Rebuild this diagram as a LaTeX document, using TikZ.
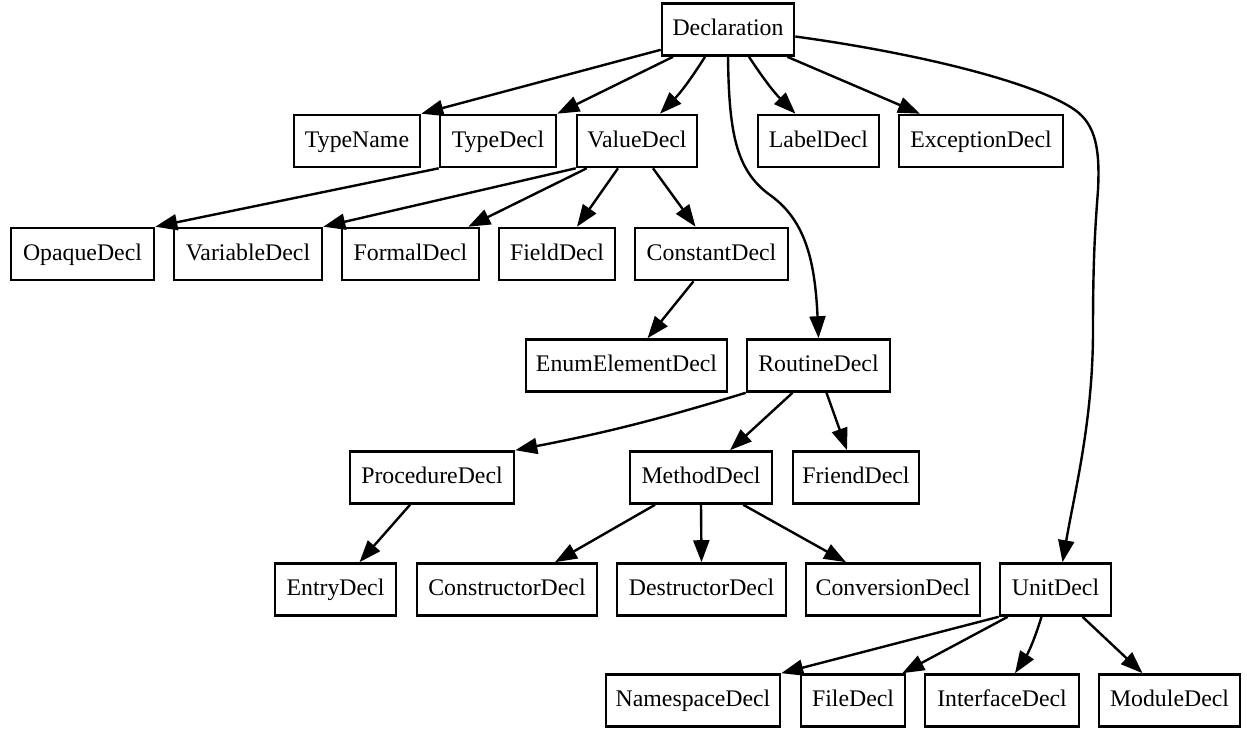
\documentclass[tikz,border=0pt]{standalone}
\usepackage{fontspec}
\setmainfont{Liberation Serif}
\usetikzlibrary{arrows.meta,calc}
\begin{document}
\begin{tikzpicture}[x=0.5pt,y=-0.5pt,
  box/.style={draw, line width=1.3pt, minimum height=26pt, inner sep=0pt,
    text height=8.5pt, text depth=2.5pt,
    minimum width=#1*0.5pt, font=\fontsize{11.9pt}{14pt}\selectfont},
  edge/.style={line width=1.2pt, -{Triangle[length=11pt,width=8pt]}}]
\useasboundingbox (0,0) rectangle (1247,729);
% row 1
\node[box=132] (Declaration) at (728,29.5) {Declaration};
% row 2
\node[box=126] (TypeName) at (357,141) {TypeName};
\node[box=116] (TypeDecl) at (498,141) {TypeDecl};
\node[box=120] (ValueDecl) at (637,141) {ValueDecl};
\node[box=121] (LabelDecl) at (818.5,141) {LabelDecl};
\node[box=164] (ExceptionDecl) at (981,141) {ExceptionDecl};
% row 3
\node[box=143] (OpaqueDecl) at (82.5,254) {OpaqueDecl};
\node[box=148] (VariableDecl) at (248,254) {VariableDecl};
\node[box=137] (FormalDecl) at (410.5,254) {FormalDecl};
\node[box=116] (FieldDecl) at (557,254) {FieldDecl};
\node[box=153] (ConstantDecl) at (711.5,254) {ConstantDecl};
% row 4
\node[box=201] (EnumElementDecl) at (626.5,365.5) {EnumElementDecl};
\node[box=143] (RoutineDecl) at (818.5,365.5) {RoutineDecl};
% row 5
\node[box=164] (ProcedureDecl) at (432,477.5) {ProcedureDecl};
\node[box=142] (MethodDecl) at (701,477.5) {MethodDecl};
\node[box=126] (FriendDecl) at (856,477.5) {FriendDecl};
% row 6
\node[box=121] (EntryDecl) at (335.5,589.5) {EntryDecl};
\node[box=180] (ConstructorDecl) at (507,589.5) {ConstructorDecl};
\node[box=169] (DestructorDecl) at (701.5,589.5) {DestructorDecl};
\node[box=174] (ConversionDecl) at (893,589.5) {ConversionDecl};
\node[box=111] (UnitDecl) at (1055.5,589.5) {UnitDecl};
% row 7
\node[box=174] (NamespaceDecl) at (693,700.5) {NamespaceDecl};
\node[box=104] (FileDecl) at (853,700.5) {FileDecl};
\node[box=154] (InterfaceDecl) at (1002,700.5) {InterfaceDecl};
\node[box=141] (ModuleDecl) at (1169.5,700.5) {ModuleDecl};

% edges from Declaration
\draw[edge] ($(Declaration.south west)+(0,-7)$) -- (TypeName.north east);
\draw[edge] ($(Declaration.south)+(-55,0)$) -- (TypeDecl.north east);
\draw[edge] ($(Declaration.south)+(-23,0)$) to[bend left=6] ($(ValueDecl.north)+(23,0)$);
\draw[edge] (Declaration.south) .. controls (729,130) and (735,170) .. (770,195)
  .. controls (805,220) and (815,260) .. (RoutineDecl.north);
\draw[edge] ($(Declaration.south)+(21,0)$) to[bend right=6] ($(LabelDecl.north)+(-23,0)$);
\draw[edge] ($(Declaration.south east)+(-8,0)$) -- ($(ExceptionDecl.north)+(-61,0)$);
\draw[edge] ($(Declaration.east)+(0,7)$) .. controls (930,55) and (1040,85) .. (1075,110)
  .. controls (1096,125) and (1100,150) .. (1098,190)
  .. controls (1095,230) and (1093,260) .. (1093,330)
  .. controls (1093,420) and (1075,490) .. ($(UnitDecl.north)+(7,0)$);
% TypeDecl
\draw[edge] (TypeDecl.south west) -- (OpaqueDecl.north east);
% ValueDecl
\draw[edge] (ValueDecl.south west) -- (VariableDecl.north east);
\draw[edge] ($(ValueDecl.south west)+(11,0)$) -- ($(FormalDecl.north east)+(-12,0)$);
\draw[edge] ($(ValueDecl.south)+(-19,0)$) -- ($(FieldDecl.north)+(20,0)$);
\draw[edge] ($(ValueDecl.south)+(16,0)$) -- ($(ConstantDecl.north)+(-16,0)$);
% ConstantDecl
\draw[edge] ($(ConstantDecl.south)+(-18,0)$) -- ($(EnumElementDecl.north)+(21,0)$);
% RoutineDecl
\draw[edge] (RoutineDecl.south west) to[bend left=3] (ProcedureDecl.north east);
\draw[edge] ($(RoutineDecl.south)+(-26,0)$) -- ($(MethodDecl.north)+(29,0)$);
\draw[edge] ($(RoutineDecl.south)+(8,0)$) -- ($(FriendDecl.north)+(-9,0)$);
% ProcedureDecl
\draw[edge] ($(ProcedureDecl.south)+(-22,0)$) -- ($(EntryDecl.north)+(24,0)$);
% MethodDecl
\draw[edge] ($(MethodDecl.south)+(-46,0)$) -- ($(ConstructorDecl.north)+(48,0)$);
\draw[edge] (MethodDecl.south) -- (DestructorDecl.north);
\draw[edge] ($(MethodDecl.south east)+(-30,0)$) -- ($(ConversionDecl.north)+(-47,0)$);
% UnitDecl
\draw[edge] (UnitDecl.south west) -- (NamespaceDecl.north east);
\draw[edge] ($(UnitDecl.south west)+(9,0)$) -- ($(FileDecl.north east)+(-4,0)$);
\draw[edge] ($(UnitDecl.south)+(-14,0)$) to[bend left=8] ($(InterfaceDecl.north)+(13,0)$);
\draw[edge] ($(UnitDecl.south)+(27,0)$) -- ($(ModuleDecl.north)+(-27,0)$);
\end{tikzpicture}
\end{document}
